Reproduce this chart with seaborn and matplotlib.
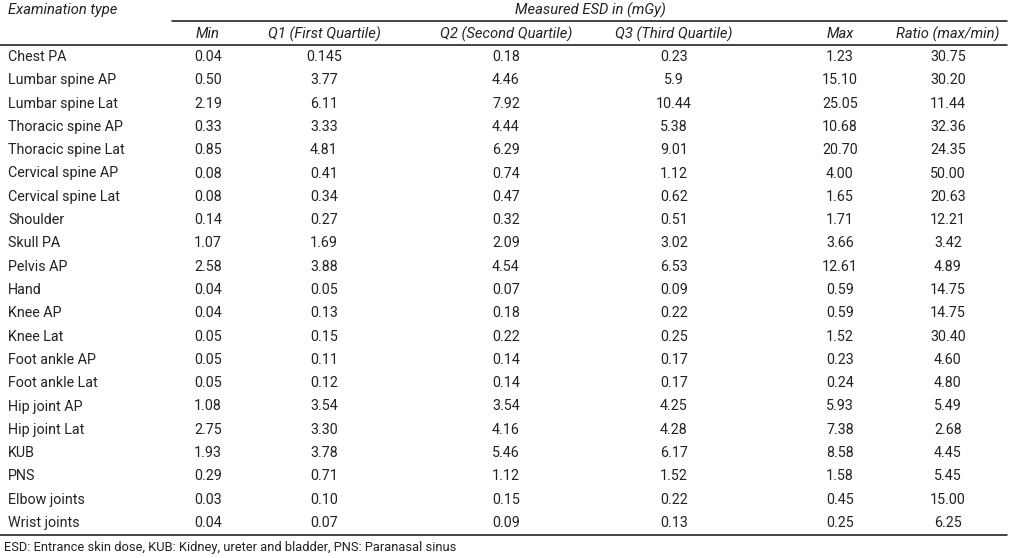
import matplotlib
matplotlib.use("Agg")
import matplotlib.pyplot as plt
import seaborn as sns

exam_types = ["Chest PA", "Lumbar spine AP", "Lumbar spine Lat", "Thoracic spine AP",
              "Thoracic spine Lat", "Cervical spine AP", "Cervical spine Lat", "Shoulder",
              "Skull PA", "Pelvis AP", "Hand", "Knee AP", "Knee Lat", "Foot ankle AP",
              "Foot ankle Lat", "Hip joint AP", "Hip joint Lat", "KUB", "PNS",
              "Elbow joints", "Wrist joints"]
min_vals = ["0.04", "0.50", "2.19", "0.33", "0.85", "0.08", "0.08", "0.14", "1.07", "2.58",
            "0.04", "0.04", "0.05", "0.05", "0.05", "1.08", "2.75", "1.93", "0.29", "0.03", "0.04"]
q1_vals = ["0.145", "3.77", "6.11", "3.33", "4.81", "0.41", "0.34", "0.27", "1.69", "3.88",
           "0.05", "0.13", "0.15", "0.11", "0.12", "3.54", "3.30", "3.78", "0.71", "0.10", "0.07"]
q2_vals = ["0.18", "4.46", "7.92", "4.44", "6.29", "0.74", "0.47", "0.32", "2.09", "4.54",
           "0.07", "0.18", "0.22", "0.14", "0.14", "3.54", "4.16", "5.46", "1.12", "0.15", "0.09"]
q3_vals = ["0.23", "5.9", "10.44", "5.38", "9.01", "1.12", "0.62", "0.51", "3.02", "6.53",
           "0.09", "0.22", "0.25", "0.17", "0.17", "4.25", "4.28", "6.17", "1.52", "0.22", "0.13"]
max_vals = ["1.23", "15.10", "25.05", "10.68", "20.70", "4.00", "1.65", "1.71", "3.66", "12.61",
            "0.59", "0.59", "1.52", "0.23", "0.24", "5.93", "7.38", "8.58", "1.58", "0.45", "0.25"]
ratio_vals = ["30.75", "30.20", "11.44", "32.36", "24.35", "50.00", "20.63", "12.21", "3.42",
              "4.89", "14.75", "14.75", "30.40", "4.60", "4.80", "5.49", "2.68", "4.45", "5.45",
              "15.00", "6.25"]

col_headers = ["Min", "Q1 (First Quartile)", "Q2 (Second Quartile)", "Q3 (Third Quartile)",
               "Max", "Ratio (max/min)"]
group_header = "Measured ESD in (mGy)"
first_header = "Examination type"
footnote = "ESD: Entrance skin dose, KUB: Kidney, ureter and bladder, PNS: Paranasal sinus"

sns.set_theme(style="white")
plt.rcParams["font.family"] = ["Roboto", "DejaVu Sans"]

fig = plt.figure(figsize=(10.09, 5.58), dpi=100)
ax = fig.add_axes([0, 0, 1, 1])
ax.set_xlim(0, 1009)
ax.set_ylim(558, 0)
ax.axis("off")

txt = "#222222"
fs = 10.3
hfs = 10.6
col_x = [208, 324, 506, 674, 840, 948]
columns = [min_vals, q1_vals, q2_vals, q3_vals, max_vals, ratio_vals]

ax.text(8, 10, first_header, fontsize=hfs, style="italic", color=txt, va="center")
ax.text(590, 10, group_header, fontsize=hfs, style="italic", color=txt, va="center", ha="center")
ax.plot([172, 1007], [21, 21], color="#111111", lw=1.1)
for x, h in zip(col_x, col_headers):
    ax.text(x, 34, h, fontsize=hfs, style="italic", color=txt, va="center", ha="center")
ax.plot([0, 1007], [44.5, 44.5], color="#111111", lw=1.1)

y0, dy = 57, 23.3
for i, name in enumerate(exam_types):
    y = y0 + i * dy
    ax.text(8, y, name, fontsize=fs, color=txt, va="center")
    for x, col in zip(col_x, columns):
        ax.text(x, y, col[i], fontsize=fs, color=txt, va="center", ha="center")

ax.plot([0, 1007], [535, 535], color="#111111", lw=1.1)
ax.text(4, 548, footnote, fontsize=9.3, color=txt, va="center")

fig.savefig("out.png", dpi=100)
